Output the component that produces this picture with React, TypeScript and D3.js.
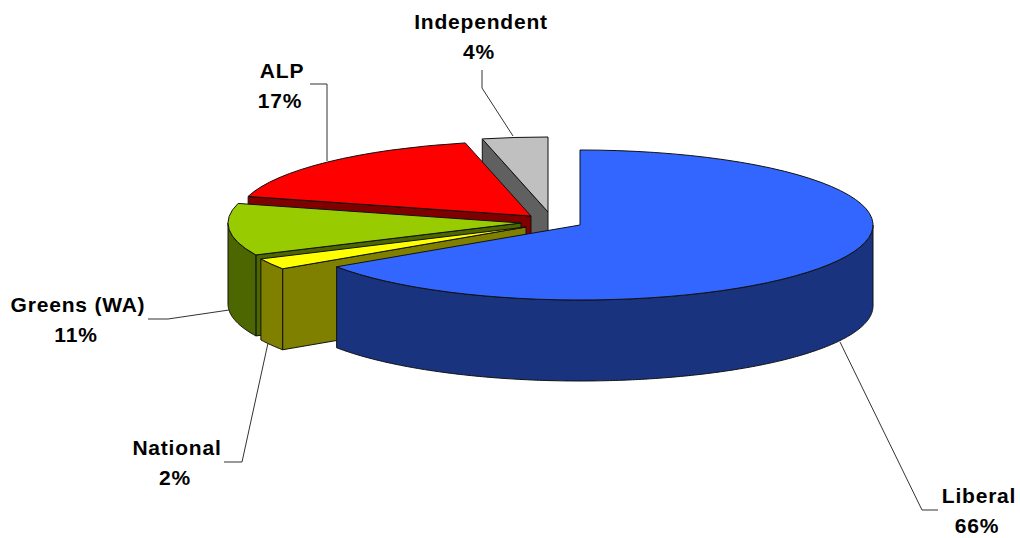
import React from 'react';
import * as d3 from 'd3';

// slice order runs clockwise from 12 o'clock
const parties = ['Liberal', 'National', 'Greens (WA)', 'ALP', 'Independent'];
const shares = [65.6, 2.4, 11.2, 17.2, 3.6];

const topColors = ['#3366ff', '#ffff00', '#99cc00', '#ff0000', '#c0c0c0'];
const sideColors = ['#19337f', '#808000', '#4c6600', '#800000', '#606060'];

// exploded offset of each slice from the pie centre
const shifts = [[0, 0], [-54, 2], [-59, -2], [-49, -9], [-32, -13]];

const labelPos = [[979, 503], [177, 455], [78, 312], [282, 78], [481, 29]];
const leaders = [
  [[938, 510], [922, 510], [840, 342]],
  [[224, 462], [242, 462], [268, 343]],
  [[148, 319], [168, 319], [229, 310]],
  [[310, 84], [327, 84], [327, 161]],
  [[482, 70], [482, 88], [513, 136]],
];

const width = 1020;
const height = 538;
const cx = 580;
const cy = 225;
const rx = 293;
const ry = 75;
const depth = 81;

const pie = d3.pie<number>().sort(null).value(d => d);
const slices = pie(shares);

const topArc = d3.arc<d3.PieArcDatum<number>>().innerRadius(0).outerRadius(rx);
const line = d3.line();
const pct = d3.format('.0f');

const rim = (a: number): [number, number] => [rx * Math.sin(a), -ry * Math.cos(a)];

// front facing part of the outer wall, null if the slice has none
const outerWall = (start: number, end: number) => {
  const a0 = Math.max(start, Math.PI / 2);
  const a1 = Math.min(end, Math.PI * 1.5);
  if (a1 <= a0) return null;
  const angles = d3.range(a0, a1, 0.01).concat(a1);
  const upper = angles.map(rim);
  const lower = upper.map(([x, y]) => [x, y + depth] as [number, number]).reverse();
  return line(upper.concat(lower)) + 'Z';
};

// wall along the radial edge at the slice's start angle
const radialWall = (a: number) => {
  const [x, y] = rim(a);
  return line([[0, 0], [x, y], [x, y + depth], [0, depth]]) + 'Z';
};

// painted back to front
const drawOrder = [4, 3, 2, 1, 0];

export default function App() {
  return (
    <svg
      width={width}
      height={height}
      style={{ position: 'absolute', left: 0, top: 0, background: '#fff' }}
      fontFamily="'Liberation Sans', Arial, sans-serif"
    >
      {drawOrder.map(i => {
        const s = slices[i];
        const wall = outerWall(s.startAngle, s.endAngle);
        const showRadial = Math.sin(s.startAngle) < -0.001;
        return (
          <g
            key={parties[i]}
            transform={`translate(${cx + shifts[i][0]},${cy + shifts[i][1]})`}
            stroke="#111"
            strokeWidth={1}
            strokeLinejoin="round"
          >
            {showRadial && <path d={radialWall(s.startAngle)} fill={sideColors[i]} />}
            {wall && <path d={wall} fill={sideColors[i]} />}
            <path
              d={topArc(s) as string}
              transform={`scale(1,${ry / rx})`}
              fill={topColors[i]}
              vectorEffect="non-scaling-stroke"
            />
          </g>
        );
      })}

      {leaders.map((pts, i) => (
        <path
          key={parties[i]}
          d={line(pts as [number, number][]) as string}
          fill="none"
          stroke="#333"
          strokeWidth={1}
        />
      ))}

      {parties.map((name, i) => (
        <text
          key={name}
          x={labelPos[i][0]}
          y={labelPos[i][1]}
          textAnchor="middle"
          fontSize={21}
          fontWeight="bold"
          letterSpacing={0.8}
          fill="#000"
        >
          <tspan>{name}</tspan>
          <tspan x={labelPos[i][0] - 2} dy={30}>{pct(shares[i])}%</tspan>
        </text>
      ))}
    </svg>
  );
}
